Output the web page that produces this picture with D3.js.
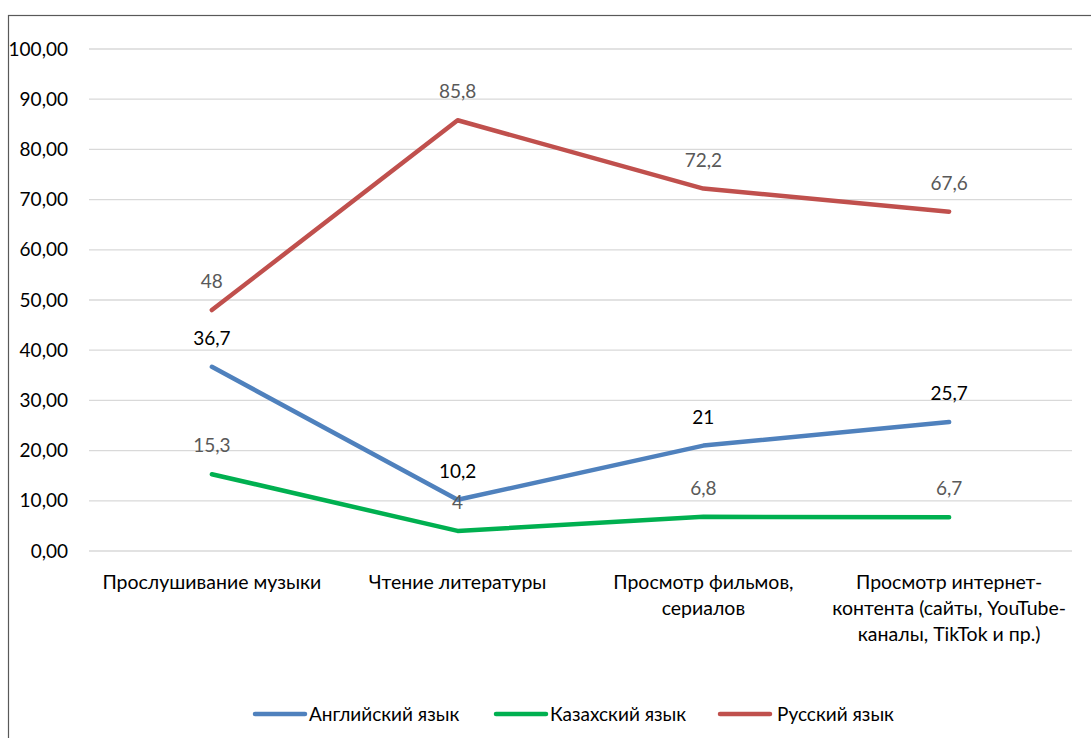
<!DOCTYPE html>
<html>
<head>
<meta charset="utf-8">
<script src="https://cdn.jsdelivr.net/npm/d3@7"></script>
<style>
  html, body { margin: 0; padding: 0; background: #fff; }
  svg { display: block; font-family: Lato, "Open Sans", "Liberation Sans", sans-serif; }
</style>
</head>
<body>
<svg id="chart" width="1091" height="738"></svg>
<script>
// Activities (categories along the x axis)
const categories = [
  ["Прослушивание музыки"],
  ["Чтение литературы"],
  ["Просмотр фильмов,", "сериалов"],
  ["Просмотр интернет-", "контента (сайты, YouTube-", "каналы, TikTok и пр.)"]
];
// Share of respondents per language, %
const englishValues = [36.7, 10.2, 21, 25.7];
const kazakhValues  = [15.3, 4, 6.8, 6.7];
const russianValues = [48, 85.8, 72.2, 67.6];
const seriesNames   = ["Английский язык", "Казахский язык", "Русский язык"];
const yTicks = [0, 10, 20, 30, 40, 50, 60, 70, 80, 90, 100];

const series = [
  { name: seriesNames[0], values: englishValues, color: "#4F81BD", labelColor: "#000000" },
  { name: seriesNames[1], values: kazakhValues,  color: "#00B050", labelColor: "#595959" },
  { name: seriesNames[2], values: russianValues, color: "#C0504D", labelColor: "#595959" }
];

const FONT = 19;
const svg = d3.select("#chart");

// outer frame of the chart area
svg.append("rect")
  .attr("x", 8.5).attr("y", 15.5)
  .attr("width", 1100).attr("height", 740)
  .attr("fill", "none").attr("stroke", "#595959").attr("stroke-width", 1.2);

const plot = { left: 89, right: 1072, top: 49, bottom: 551 };

const x = d3.scaleBand()
  .domain(d3.range(categories.length))
  .range([plot.left, plot.right]);

const y = d3.scaleLinear()
  .domain([0, 100])
  .range([plot.bottom, plot.top]);

// horizontal gridlines
svg.append("g")
  .selectAll("line")
  .data(yTicks)
  .join("line")
  .attr("x1", plot.left).attr("x2", plot.right)
  .attr("y1", d => y(d)).attr("y2", d => y(d))
  .attr("stroke", "#d9d9d9").attr("stroke-width", 1.3);

// y axis tick labels
const fmt = d => d.toFixed(2).replace(".", ",");
svg.append("g")
  .selectAll("text")
  .data(yTicks)
  .join("text")
  .attr("x", 68).attr("y", d => y(d))
  .attr("dy", "0.35em")
  .attr("text-anchor", "end")
  .attr("font-size", FONT)
  .attr("fill", "#000")
  .text(fmt);

// category labels
const catG = svg.append("g");
categories.forEach((lines, i) => {
  const t = catG.append("text")
    .attr("x", x(i) + x.bandwidth() / 2)
    .attr("y", 589)
    .attr("text-anchor", "middle")
    .attr("font-size", 19.5)
    .attr("fill", "#000");
  lines.forEach((ln, j) => {
    t.append("tspan")
      .attr("x", x(i) + x.bandwidth() / 2)
      .attr("dy", j === 0 ? 0 : 26)
      .text(ln);
  });
});

const cx = i => x(i) + x.bandwidth() / 2;
const line = d3.line()
  .x((d, i) => cx(i))
  .y(d => y(d));

// series lines
svg.append("g")
  .selectAll("path")
  .data(series)
  .join("path")
  .attr("d", s => line(s.values))
  .attr("fill", "none")
  .attr("stroke", s => s.color)
  .attr("stroke-width", 4.5)
  .attr("stroke-linejoin", "round")
  .attr("stroke-linecap", "round");

// value labels above each point
const numFmt = v => String(v).replace(".", ",");
series.forEach(s => {
  svg.append("g")
    .selectAll("text")
    .data(s.values)
    .join("text")
    .attr("x", (d, i) => cx(i))
    .attr("y", d => y(d) - 22)
    .attr("text-anchor", "middle")
    .attr("font-size", FONT)
    .attr("fill", s.labelColor)
    .text(numFmt);
});

// legend
const legendItems = [
  { x: 255, textX: 309 },
  { x: 496, textX: 550 },
  { x: 720, textX: 777 }
];
const legend = svg.append("g");
series.forEach((s, i) => {
  const li = legendItems[i];
  legend.append("line")
    .attr("x1", li.x).attr("x2", li.x + 50)
    .attr("y1", 714).attr("y2", 714)
    .attr("stroke", s.color).attr("stroke-width", 4.5)
    .attr("stroke-linecap", "round");
  legend.append("text")
    .attr("x", li.textX).attr("y", 714)
    .attr("dy", "0.35em")
    .attr("font-size", FONT)
    .attr("fill", "#000")
    .text(s.name);
});
</script>
</body>
</html>
